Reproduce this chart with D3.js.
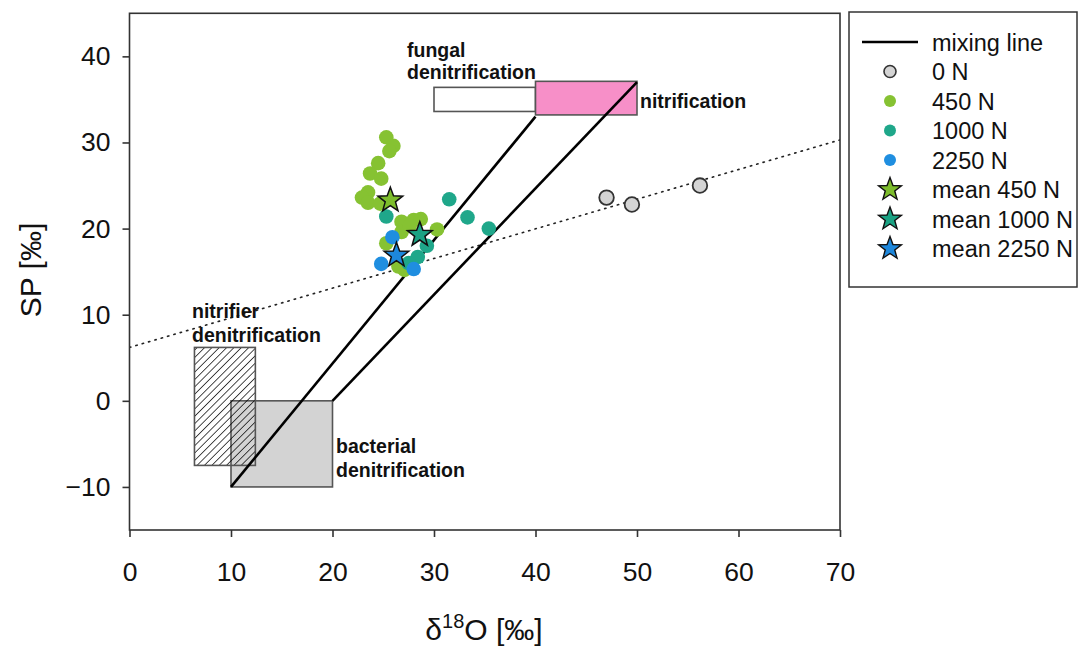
<!DOCTYPE html>
<html>
<head>
<meta charset="utf-8">
<script src="https://cdn.jsdelivr.net/npm/d3@7"></script>
<style>
  body { margin: 0; background: #fff; }
  svg { display: block; font-family: "Liberation Sans", Arial, sans-serif; }
</style>
</head>
<body>
<svg id="chart" width="1079" height="646"></svg>
<script>
// δ18O / SP values [‰] per fertilisation level
const n0 = [[47.0, 23.6], [49.5, 22.8], [56.2, 25.0]];
const n450 = [
  [25.3, 30.6], [26.0, 29.6], [25.6, 29.0], [24.5, 27.6], [23.7, 26.4],
  [24.8, 25.8], [23.5, 24.2], [22.9, 23.6], [23.5, 23.0], [24.7, 22.9],
  [26.8, 20.8], [28.0, 21.0], [28.7, 21.1], [30.3, 19.9], [26.8, 19.6],
  [27.6, 20.3], [25.3, 18.3], [27.1, 15.2], [26.5, 15.6]
];
const n1000 = [
  [31.5, 23.4], [33.3, 21.3], [35.4, 20.0], [25.3, 21.4],
  [29.3, 18.0], [28.4, 16.7], [27.5, 16.0]
];
const n2250 = [[25.9, 19.0], [24.8, 15.9], [28.0, 15.3]];
const mean450 = [25.7, 23.3];
const mean1000 = [28.6, 19.3];
const mean2250 = [26.3, 16.9];

// mixing lines between bacterial denitrification and nitrification endmembers
const mixingLines = [
  [[10, -10], [40, 33]],
  [[20, 0], [50, 37]]
];
// regression through the unfertilised samples
const trendLine = [[0, 6.2], [70, 30.3]];

// source endmember ranges: [xmin, xmax], [ymin, ymax]
const bacterialBox = { x: [10, 20], y: [-10, 0] };
const nitrifierDenitBox = { x: [6.4, 12.4], y: [-7.5, 6.2] };
const fungalBox = { x: [30, 40], y: [33.6, 36.4] };
const nitrificationBox = { x: [40, 50], y: [33.2, 37.1] };

const xTicks = [0, 10, 20, 30, 40, 50, 60, 70];
const yTicks = [-10, 0, 10, 20, 30, 40];

const legendItems = [
  { label: "mixing line", type: "line" },
  { label: "0 N", type: "circle", fill: "#d4d4d4", stroke: "#333" },
  { label: "450 N", type: "circle", fill: "#86c232" },
  { label: "1000 N", type: "circle", fill: "#1fa78a" },
  { label: "2250 N", type: "circle", fill: "#1f8ee0" },
  { label: "mean 450 N", type: "star", fill: "#7dbd2c" },
  { label: "mean 1000 N", type: "star", fill: "#1aa283" },
  { label: "mean 2250 N", type: "star", fill: "#1d87dc" }
];

const colors = { n0: "#d4d4d4", n450: "#86c232", n1000: "#1fa78a", n2250: "#1f8ee0" };

const svg = d3.select("#chart");
const x = d3.scaleLinear().domain([0, 70]).range([129.5, 840]);
const y = d3.scaleLinear().domain([-15, 45]).range([530, 13.3]);

// hatch pattern for nitrifier denitrification
const defs = svg.append("defs");
defs.append("pattern")
  .attr("id", "hatch")
  .attr("patternUnits", "userSpaceOnUse")
  .attr("width", 5.2).attr("height", 5.2)
  .attr("patternTransform", "rotate(45)")
  .append("line")
  .attr("x1", 0).attr("y1", 0).attr("x2", 0).attr("y2", 5.2)
  .attr("stroke", "#000").attr("stroke-width", 1.4);

defs.append("clipPath").attr("id", "plotClip")
  .append("rect")
  .attr("x", x(0)).attr("y", y(45))
  .attr("width", x(70) - x(0)).attr("height", y(-15) - y(45));

const plot = svg.append("g").attr("clip-path", "url(#plotClip)");

function box(b, fill) {
  return plot.append("rect")
    .attr("x", x(b.x[0])).attr("y", y(b.y[1]))
    .attr("width", x(b.x[1]) - x(b.x[0]))
    .attr("height", y(b.y[0]) - y(b.y[1]))
    .attr("fill", fill)
    .attr("stroke", "#555").attr("stroke-width", 1.6);
}
box(bacterialBox, "#d3d3d3");
box(nitrifierDenitBox, "url(#hatch)");
box(fungalBox, "#ffffff");
box(nitrificationBox, "#f78fc8");

const line = d3.line().x(d => x(d[0])).y(d => y(d[1]));

plot.append("path")
  .attr("d", line(trendLine))
  .attr("fill", "none").attr("stroke", "#222")
  .attr("stroke-width", 1.6).attr("stroke-dasharray", "1.4,5.2")
  .attr("stroke-linecap", "round");

mixingLines.forEach(seg => {
  plot.append("path")
    .attr("d", line(seg))
    .attr("fill", "none").attr("stroke", "#000").attr("stroke-width", 2.6);
});

function points(data, fill, stroke) {
  plot.append("g").selectAll("circle").data(data).join("circle")
    .attr("cx", d => x(d[0])).attr("cy", d => y(d[1]))
    .attr("r", 7.3)
    .attr("fill", fill)
    .attr("stroke", stroke || "none")
    .attr("stroke-width", stroke ? 1.8 : 0);
}
points(n0, colors.n0, "#333");
points(n450, colors.n450);
points(n1000, colors.n1000);
points(n2250, colors.n2250);

function starPath(R, r) {
  const pts = [];
  for (let i = 0; i < 10; i++) {
    const a = -Math.PI / 2 + i * Math.PI / 5;
    const rad = i % 2 === 0 ? R : r;
    pts.push([rad * Math.cos(a), rad * Math.sin(a)]);
  }
  return "M" + pts.map(p => p[0].toFixed(2) + "," + p[1].toFixed(2)).join("L") + "Z";
}

[[mean450, "#7dbd2c"], [mean1000, "#1aa283"], [mean2250, "#1d87dc"]].forEach(([m, c]) => {
  plot.append("path")
    .attr("d", starPath(13, 5.4))
    .attr("transform", `translate(${x(m[0])},${y(m[1])})`)
    .attr("fill", c).attr("stroke", "#111").attr("stroke-width", 1.5)
    .attr("stroke-linejoin", "miter");
});

// source labels
const labelStyle = sel => sel.attr("font-size", 19.5).attr("font-weight", "bold").attr("fill", "#111");
function label(lines, px, py, lh) {
  const t = svg.append("text").call(labelStyle);
  lines.forEach((s, i) => t.append("tspan").attr("x", px).attr("y", py + i * lh).text(s));
}
label(["fungal", "denitrification"], 407, 57, 22);
label(["nitrification"], 640, 108, 0);
label(["nitrifier", "denitrification"], 192, 318, 24);
label(["bacterial", "denitrification"], 336, 453, 24);

// frame
svg.append("rect")
  .attr("x", x(0)).attr("y", y(45))
  .attr("width", x(70) - x(0)).attr("height", y(-15) - y(45))
  .attr("fill", "none").attr("stroke", "#333").attr("stroke-width", 1.6);

// axes
const xAxis = svg.append("g")
  .attr("transform", `translate(0,${y(-15)})`)
  .call(d3.axisBottom(x).tickValues(xTicks).tickSize(7).tickSizeOuter(0).tickPadding(25));
const yAxis = svg.append("g")
  .attr("transform", `translate(${x(0)},0)`)
  .call(d3.axisLeft(y).tickValues(yTicks).tickSize(7).tickSizeOuter(0).tickPadding(12));
[xAxis, yAxis].forEach(a => {
  a.select(".domain").remove();
  a.selectAll(".tick line").attr("stroke", "#333").attr("stroke-width", 1.6);
  a.selectAll(".tick text")
    .attr("font-size", 26.5).attr("fill", "#111")
    .attr("font-family", "'Liberation Sans', Arial, sans-serif");
});

// axis titles
svg.append("text")
  .attr("transform", "translate(41,270) rotate(-90)")
  .attr("text-anchor", "middle")
  .attr("font-size", 30).attr("fill", "#111")
  .text("SP [‰]");

const xt = svg.append("text")
  .attr("x", 484).attr("y", 640)
  .attr("text-anchor", "middle")
  .attr("font-size", 30).attr("fill", "#111");
xt.append("tspan").text("δ");
xt.append("tspan").attr("font-size", 20).attr("dy", -12).text("18");
xt.append("tspan").attr("dy", 12).text("O [‰]");

// legend
const lg = svg.append("g");
lg.append("rect")
  .attr("x", 849).attr("y", 12).attr("width", 228).attr("height", 275)
  .attr("fill", "#fff").attr("stroke", "#333").attr("stroke-width", 1.5);
const rowY = i => 42 + i * 29.5;
legendItems.forEach((it, i) => {
  const cy = rowY(i);
  if (it.type === "line") {
    lg.append("line").attr("x1", 862).attr("x2", 918).attr("y1", cy).attr("y2", cy)
      .attr("stroke", "#000").attr("stroke-width", 2.6);
  } else if (it.type === "circle") {
    lg.append("circle").attr("cx", 890).attr("cy", cy).attr("r", 6)
      .attr("fill", it.fill)
      .attr("stroke", it.stroke || "none").attr("stroke-width", it.stroke ? 1.6 : 0);
  } else {
    lg.append("path").attr("d", starPath(12, 5))
      .attr("transform", `translate(890,${cy})`)
      .attr("fill", it.fill).attr("stroke", "#111").attr("stroke-width", 1.4);
  }
  lg.append("text").attr("x", 932).attr("y", cy + 8.5)
    .attr("font-size", 23.5).attr("fill", "#111").text(it.label);
});
</script>
</body>
</html>
